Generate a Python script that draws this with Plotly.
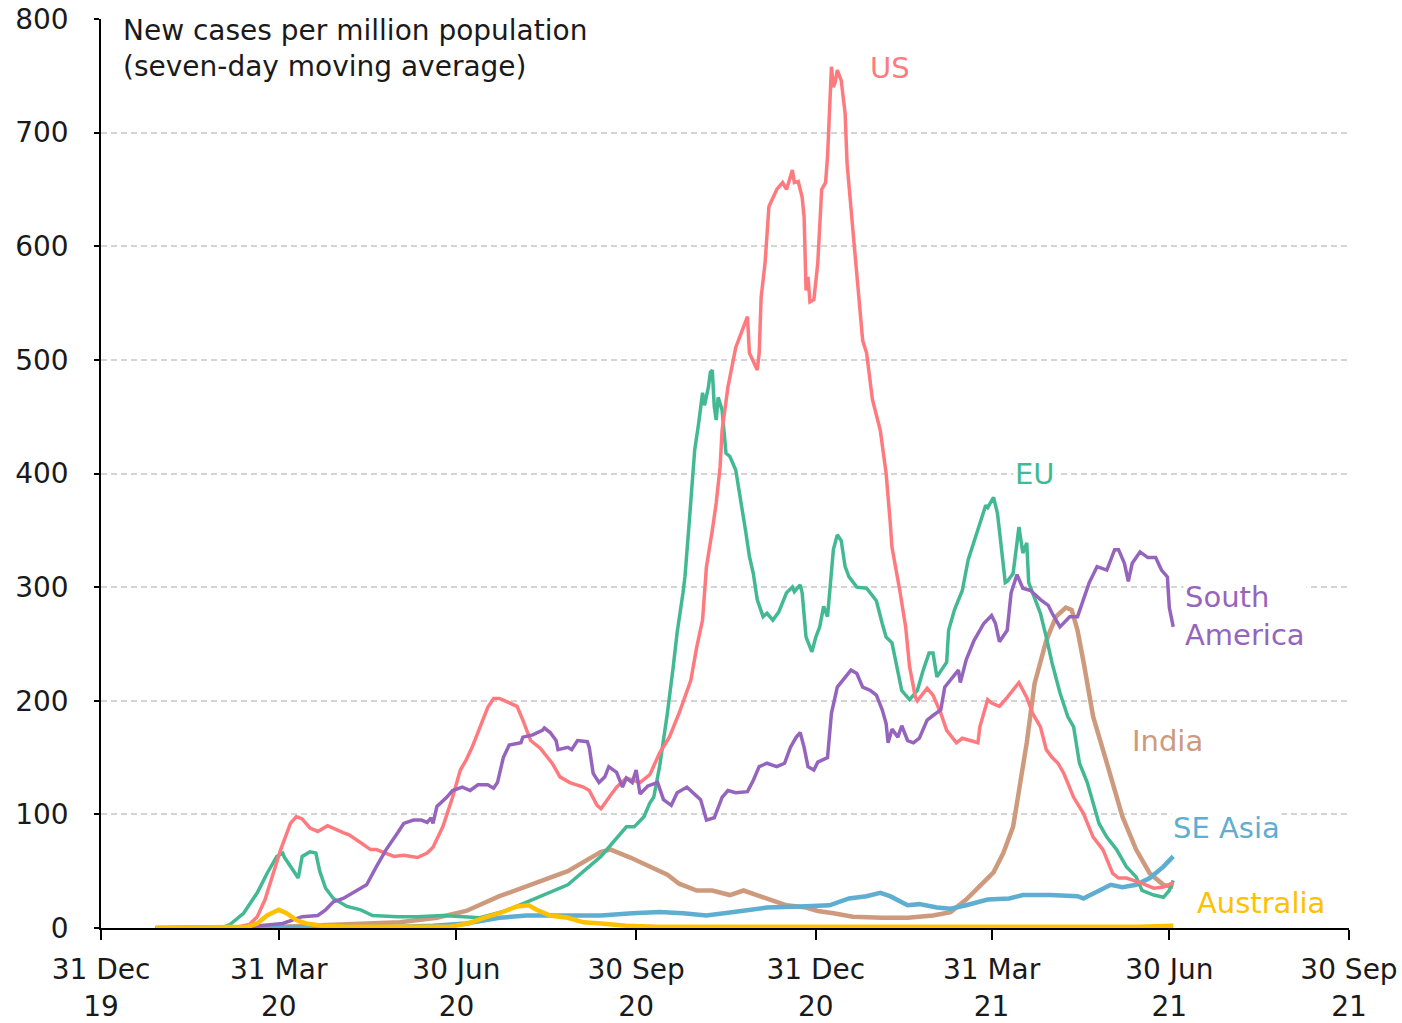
import plotly.graph_objects as go

# ---------------- data ----------------
US_DATES = ["2020-01-28","2020-03-01","2020-03-10","2020-03-16","2020-03-20","2020-03-24","2020-03-28",
"2020-04-01","2020-04-06","2020-04-09","2020-04-12","2020-04-16","2020-04-20","2020-04-25","2020-05-03",
"2020-05-06","2020-05-12","2020-05-17","2020-05-20","2020-05-25","2020-05-29","2020-06-03","2020-06-10",
"2020-06-15","2020-06-18","2020-06-23","2020-06-28","2020-07-02","2020-07-05","2020-07-08","2020-07-12",
"2020-07-16","2020-07-19","2020-07-22","2020-07-26","2020-07-31","2020-08-03","2020-08-07","2020-08-12",
"2020-08-18","2020-08-22","2020-08-27","2020-09-03","2020-09-06","2020-09-10","2020-09-12","2020-09-17",
"2020-09-20","2020-09-25","2020-10-02","2020-10-07","2020-10-12","2020-10-17","2020-10-22","2020-10-28",
"2020-10-31","2020-11-03","2020-11-05","2020-11-08","2020-11-10","2020-11-12","2020-11-13","2020-11-16",
"2020-11-20","2020-11-26","2020-11-27","2020-12-01","2020-12-02","2020-12-03","2020-12-05","2020-12-07",
"2020-12-11","2020-12-14","2020-12-16","2020-12-19","2020-12-20","2020-12-22","2020-12-24","2020-12-25",
"2020-12-26","2020-12-27","2020-12-28","2020-12-30","2021-01-01","2021-01-03","2021-01-05","2021-01-06",
"2021-01-08","2021-01-09","2021-01-10","2021-01-11","2021-01-13","2021-01-15","2021-01-16","2021-01-19",
"2021-01-22","2021-01-24","2021-01-26","2021-01-29","2021-02-02","2021-02-05","2021-02-07","2021-02-08",
"2021-02-12","2021-02-15","2021-02-17","2021-02-20","2021-02-21","2021-02-26","2021-03-01","2021-03-05",
"2021-03-08","2021-03-13","2021-03-16","2021-03-20","2021-03-24","2021-03-25","2021-03-29","2021-03-31",
"2021-04-04","2021-04-08","2021-04-14","2021-04-18","2021-04-21","2021-04-25","2021-04-28","2021-05-01",
"2021-05-04","2021-05-07","2021-05-12","2021-05-17","2021-05-22","2021-05-27","2021-06-01","2021-06-04",
"2021-06-08","2021-06-15","2021-06-22","2021-06-27","2021-07-02"]
US_VALUES = [0,0.2,1,3,10,25,48,
69,92,98,96,88,85,90,84,
82,75,69,69,66,63,64,62,
66,71,89,115,139,148,159,177,
194,202,202,199,195,183,165,158,
145,133,128,124,121,108,105,117,
124,132,128,135,154,168,189,218,
247,271,318,350,374,406,438,476,
511,538,506,491,506,555,585,635,
650,656,650,667,656,657,643,626,
561,573,551,553,585,650,656,679,
758,740,745,755,746,717,673,614,
555,517,506,465,438,400,359,335,
297,265,230,203,200,211,205,189,
174,163,167,165,163,177,201,198,
195,203,216,203,189,177,157,150,
145,136,115,101,80,69,48,44,
44,40,35,36,40]

EU_DATES = ["2020-01-28","2020-02-25","2020-03-03","2020-03-06","2020-03-13","2020-03-20","2020-03-25",
"2020-03-30","2020-04-02","2020-04-03","2020-04-06","2020-04-10","2020-04-12","2020-04-16","2020-04-19",
"2020-04-21","2020-04-24","2020-04-28","2020-05-05","2020-05-12","2020-05-18","2020-05-31","2020-06-10",
"2020-06-23","2020-07-12","2020-07-25","2020-08-08","2020-08-26","2020-09-12","2020-09-18","2020-09-25",
"2020-09-29","2020-10-04","2020-10-07","2020-10-09","2020-10-12","2020-10-16","2020-10-19","2020-10-21",
"2020-10-24","2020-10-25","2020-10-27","2020-10-29","2020-10-30","2020-11-01","2020-11-03","2020-11-04",
"2020-11-06","2020-11-07","2020-11-08","2020-11-09","2020-11-10","2020-11-11","2020-11-13","2020-11-15",
"2020-11-17","2020-11-20","2020-11-22","2020-11-25","2020-11-27","2020-11-29","2020-12-01","2020-12-04",
"2020-12-06","2020-12-09","2020-12-12","2020-12-14","2020-12-16","2020-12-19","2020-12-20","2020-12-23",
"2020-12-24","2020-12-26","2020-12-29","2020-12-31","2021-01-02","2021-01-04","2021-01-06","2021-01-09",
"2021-01-11","2021-01-13","2021-01-15","2021-01-17","2021-01-21","2021-01-26","2021-01-31","2021-02-03",
"2021-02-05","2021-02-08","2021-02-11","2021-02-13","2021-02-17","2021-02-21","2021-02-24","2021-02-27",
"2021-03-01","2021-03-03","2021-03-08","2021-03-09","2021-03-12","2021-03-16","2021-03-19","2021-03-22",
"2021-03-25","2021-03-28","2021-03-29","2021-04-01","2021-04-03","2021-04-04","2021-04-07","2021-04-08",
"2021-04-11","2021-04-13","2021-04-14","2021-04-16","2021-04-18","2021-04-19","2021-04-21","2021-04-25",
"2021-04-28","2021-05-01","2021-05-05","2021-05-09","2021-05-12","2021-05-15","2021-05-19","2021-05-22",
"2021-05-25","2021-05-29","2021-06-03","2021-06-08","2021-06-13","2021-06-16","2021-06-22","2021-06-27",
"2021-06-30","2021-07-02"]
EU_VALUES = [0,0.3,1,3,13,31,48,
63,66,62,54,44,63,67,66,
50,35,26,19,16,11,10,10,
11,9,15,25,38,63,75,89,
89,98,110,115,142,189,230,260,
295,309,353,394,421,444,471,460,
476,489,491,459,447,467,456,418,
415,403,383,350,327,312,289,274,
277,271,278,286,295,300,296,302,
295,256,243,256,265,283,274,333,
346,341,318,309,300,299,288,268,
256,251,227,209,201,209,227,242,
242,221,234,262,280,297,324,339,
356,372,370,379,365,350,304,305,
312,339,353,330,339,304,295,277,
256,233,207,186,177,145,128,110,
92,80,69,54,45,33,29,27,
33,42]

SA_DATES = ["2020-01-28","2020-03-01","2020-03-15","2020-03-23","2020-04-02","2020-04-12","2020-04-20",
"2020-04-24","2020-04-28","2020-05-03","2020-05-10","2020-05-15","2020-05-20","2020-05-25","2020-05-31",
"2020-06-03","2020-06-08","2020-06-12","2020-06-15","2020-06-17","2020-06-18","2020-06-20","2020-06-25",
"2020-06-28","2020-07-03","2020-07-07","2020-07-11","2020-07-16","2020-07-19","2020-07-21","2020-07-24",
"2020-07-27","2020-08-02","2020-08-03","2020-08-08","2020-08-13","2020-08-14","2020-08-17","2020-08-20",
"2020-08-21","2020-08-26","2020-08-28","2020-08-31","2020-09-05","2020-09-06","2020-09-08","2020-09-11",
"2020-09-14","2020-09-16","2020-09-20","2020-09-23","2020-09-25","2020-09-28","2020-09-30","2020-10-02",
"2020-10-06","2020-10-11","2020-10-14","2020-10-18","2020-10-21","2020-10-26","2020-11-02","2020-11-05",
"2020-11-09","2020-11-13","2020-11-16","2020-11-20","2020-11-26","2020-11-29","2020-12-02","2020-12-06",
"2020-12-11","2020-12-15","2020-12-18","2020-12-21","2020-12-23","2020-12-25","2020-12-27","2020-12-30",
"2021-01-01","2021-01-06","2021-01-08","2021-01-11","2021-01-14","2021-01-18","2021-01-21","2021-01-24",
"2021-01-28","2021-01-31","2021-02-03","2021-02-05","2021-02-06","2021-02-08","2021-02-11","2021-02-13",
"2021-02-16","2021-02-19","2021-02-22","2021-02-26","2021-03-01","2021-03-05","2021-03-07","2021-03-11",
"2021-03-14","2021-03-15","2021-03-18","2021-03-22","2021-03-27","2021-03-31","2021-04-02","2021-04-04",
"2021-04-08","2021-04-10","2021-04-13","2021-04-16","2021-04-20","2021-04-25","2021-04-29","2021-05-01",
"2021-05-05","2021-05-10","2021-05-14","2021-05-17","2021-05-20","2021-05-24","2021-05-29","2021-06-02",
"2021-06-04","2021-06-07","2021-06-09","2021-06-11","2021-06-15","2021-06-19","2021-06-23","2021-06-26",
"2021-06-29","2021-06-30","2021-07-02"]
SA_VALUES = [0,0.1,1,2,4,10,11,
16,23,26,33,38,54,69,84,
92,95,95,93,97,92,107,115,
121,124,121,126,126,123,128,150,
161,163,168,170,174,176,172,165,
157,159,157,165,164,159,136,128,
133,142,137,124,132,128,139,118,
125,128,113,108,119,124,113,95,
97,115,121,119,120,130,142,145,
142,145,159,168,172,159,142,139,
146,150,189,212,218,227,224,212,
209,205,192,180,163,175,168,178,
165,163,167,183,187,192,212,221,
227,216,236,253,268,275,268,252,
262,295,311,299,297,289,284,277,
265,274,274,289,304,318,315,333,
333,321,305,321,331,326,326,315,
309,282,265]

INDIA_DATES = ["2020-01-28","2020-03-01","2020-04-01","2020-05-01","2020-06-01","2020-06-20","2020-07-05",
"2020-07-22","2020-08-08","2020-08-26","2020-09-12","2020-09-17","2020-09-27","2020-10-02","2020-10-09",
"2020-10-16","2020-10-22","2020-10-31","2020-11-08","2020-11-17","2020-11-24","2020-12-02","2020-12-16",
"2020-12-26","2021-01-01","2021-01-09","2021-01-19","2021-02-03","2021-02-16","2021-03-01","2021-03-10",
"2021-03-18","2021-03-27","2021-04-01","2021-04-06","2021-04-11","2021-04-13","2021-04-18","2021-04-22",
"2021-04-28","2021-05-03","2021-05-08","2021-05-11","2021-05-14","2021-05-17","2021-05-22","2021-05-27",
"2021-06-01","2021-06-06","2021-06-13","2021-06-20","2021-06-27","2021-07-02"]
INDIA_VALUES = [0,0,1,3,5,9,15,
28,39,50,67,69,62,58,53,
47,39,33,33,29,33,28,20,
18,15,13,10,9,9,11,14,
25,40,49,66,89,110,163,215,
253,274,282,280,262,235,186,157,
128,98,69,48,38,36]

SEASIA_DATES = ["2020-01-28","2020-03-15","2020-04-15","2020-06-01","2020-06-18","2020-07-05","2020-07-22",
"2020-08-05","2020-08-26","2020-09-12","2020-09-28","2020-10-12","2020-10-24","2020-11-05","2020-11-19",
"2020-12-06","2020-12-23","2021-01-07","2021-01-17","2021-01-26","2021-02-02","2021-02-07","2021-02-16",
"2021-02-22","2021-03-03","2021-03-10","2021-03-18","2021-03-29","2021-04-09","2021-04-16","2021-04-30",
"2021-05-14","2021-05-17","2021-05-24","2021-05-31","2021-06-06","2021-06-13","2021-06-20","2021-06-27",
"2021-07-02"]
SEASIA_VALUES = [0,0.2,0.5,1,2,4,9,
11,11,11,13,14,13,11,14,
18,19,20,26,28,31,28,20,
21,18,17,20,25,26,29,29,
28,26,32,38,36,38,44,54,
63]

AUS_DATES = ["2020-01-28","2020-03-08","2020-03-15","2020-03-20","2020-03-25","2020-03-31","2020-04-04",
"2020-04-09","2020-04-14","2020-04-22","2020-05-05","2020-06-26","2020-07-06","2020-07-14","2020-07-22",
"2020-07-31","2020-08-06","2020-08-10","2020-08-17","2020-08-26","2020-09-03","2020-09-12","2020-09-25",
"2020-10-10","2021-01-01","2021-06-15","2021-07-02"]
AUS_VALUES = [0,0.2,1,4,11,16,13,
7,4,2,1,1,4,9,13,
19,20,16,11,9,5,4,2,
1,1,1,2]

X_TICKS = ["2019-12-31","2020-03-31","2020-06-30","2020-09-30","2020-12-31","2021-03-31","2021-06-30","2021-09-30"]
X_TICK_LABELS = ["31 Dec<br>19","31 Mar<br>20","30 Jun<br>20","30 Sep<br>20",
                 "31 Dec<br>20","31 Mar<br>21","30 Jun<br>21","30 Sep<br>21"]
Y_TICKS = [0,100,200,300,400,500,600,700,800]

# ---------------- styling ----------------
FONT = "DejaVu Sans"
C_US, C_EU, C_SA = "#FF7A7F", "#42B993", "#9565BD"
C_IN, C_SE, C_AU = "#CD9A7E", "#5EAED2", "#FFC000"

fig = go.Figure()
series = [
    ("India", INDIA_DATES, INDIA_VALUES, C_IN, 4.5),
    ("SE Asia", SEASIA_DATES, SEASIA_VALUES, C_SE, 4.5),
    ("EU", EU_DATES, EU_VALUES, C_EU, 3.5),
    ("US", US_DATES, US_VALUES, C_US, 3.5),
    ("South America", SA_DATES, SA_VALUES, C_SA, 3.5),
    ("Australia", AUS_DATES, AUS_VALUES, C_AU, 4.5),
]
for name, xs, ys, col, w in series:
    fig.add_trace(go.Scatter(x=xs, y=ys, mode="lines", name=name,
                             line=dict(color=col, width=w), showlegend=False))

label_font = dict(family=FONT, size=29)
annotations = [
    dict(x="2021-02-07", y=757, text="US", xanchor="center", yanchor="middle",
         font=dict(label_font, color=C_US)),
    dict(x="2021-04-22", y=400, text="EU", xanchor="center", yanchor="middle",
         font=dict(label_font, color=C_EU), bgcolor="white"),
    dict(x="2021-07-07", y=275, text="South<br>America", xanchor="left", yanchor="middle", align="left",
         font=dict(label_font, color=C_SA), bgcolor="white"),
    dict(x="2021-06-10", y=165, text="India", xanchor="left", yanchor="middle",
         font=dict(label_font, color=C_IN)),
    dict(x="2021-07-01", y=88, text="SE Asia", xanchor="left", yanchor="middle",
         font=dict(label_font, color=C_SE), bgcolor="white"),
    dict(x="2021-07-13", y=22, text="Australia", xanchor="left", yanchor="middle",
         font=dict(label_font, color=C_AU)),
    dict(xref="paper", yref="paper", x=0.016, y=1.008, xanchor="left", yanchor="top", align="left",
         text="New cases per million population<br>(seven-day moving average)",
         font=dict(family=FONT, size=28, color="#1a1a1a")),
]
for a in annotations:
    a.setdefault("showarrow", False)
    a.setdefault("xref", "x")
    a.setdefault("yref", "y")

fig.update_layout(
    width=1402, height=1023,
    margin=dict(l=101, r=53, t=19, b=95, autoexpand=False),
    paper_bgcolor="white", plot_bgcolor="white",
    font=dict(family=FONT, size=28, color="#1a1a1a"),
    annotations=annotations,
    shapes=[dict(type="rect", xref="paper", yref="paper", x0=0.012, x1=0.484, y0=0.93, y1=1.01,
                 fillcolor="white", line=dict(width=0), layer="between")],
    xaxis=dict(type="date", range=[X_TICKS[0], X_TICKS[-1]], tickmode="array",
               tickvals=X_TICKS, ticktext=X_TICK_LABELS, showgrid=False, zeroline=False,
               showline=True, linecolor="black", linewidth=1.5, ticks="outside", ticklen=10,
               tickwidth=1.5, tickcolor="black", ticklabelstandoff=6,
               tickfont=dict(family=FONT, size=28, color="#1a1a1a")),
    yaxis=dict(range=[0, 800], tickmode="array", tickvals=Y_TICKS, showgrid=True,
               gridcolor="#d4d4d4", gridwidth=1.5, griddash="6px,4px", zeroline=False,
               showline=True, linecolor="black", linewidth=1.5, ticks="outside", ticklen=5,
               tickwidth=1.5, tickcolor="black", ticklabelstandoff=20,
               tickfont=dict(family=FONT, size=28, color="#1a1a1a")),
)

fig.write_html("out.html", config={"displayModeBar": False},
               post_script="document.body.style.margin='0px';document.body.style.overflow='hidden';")
